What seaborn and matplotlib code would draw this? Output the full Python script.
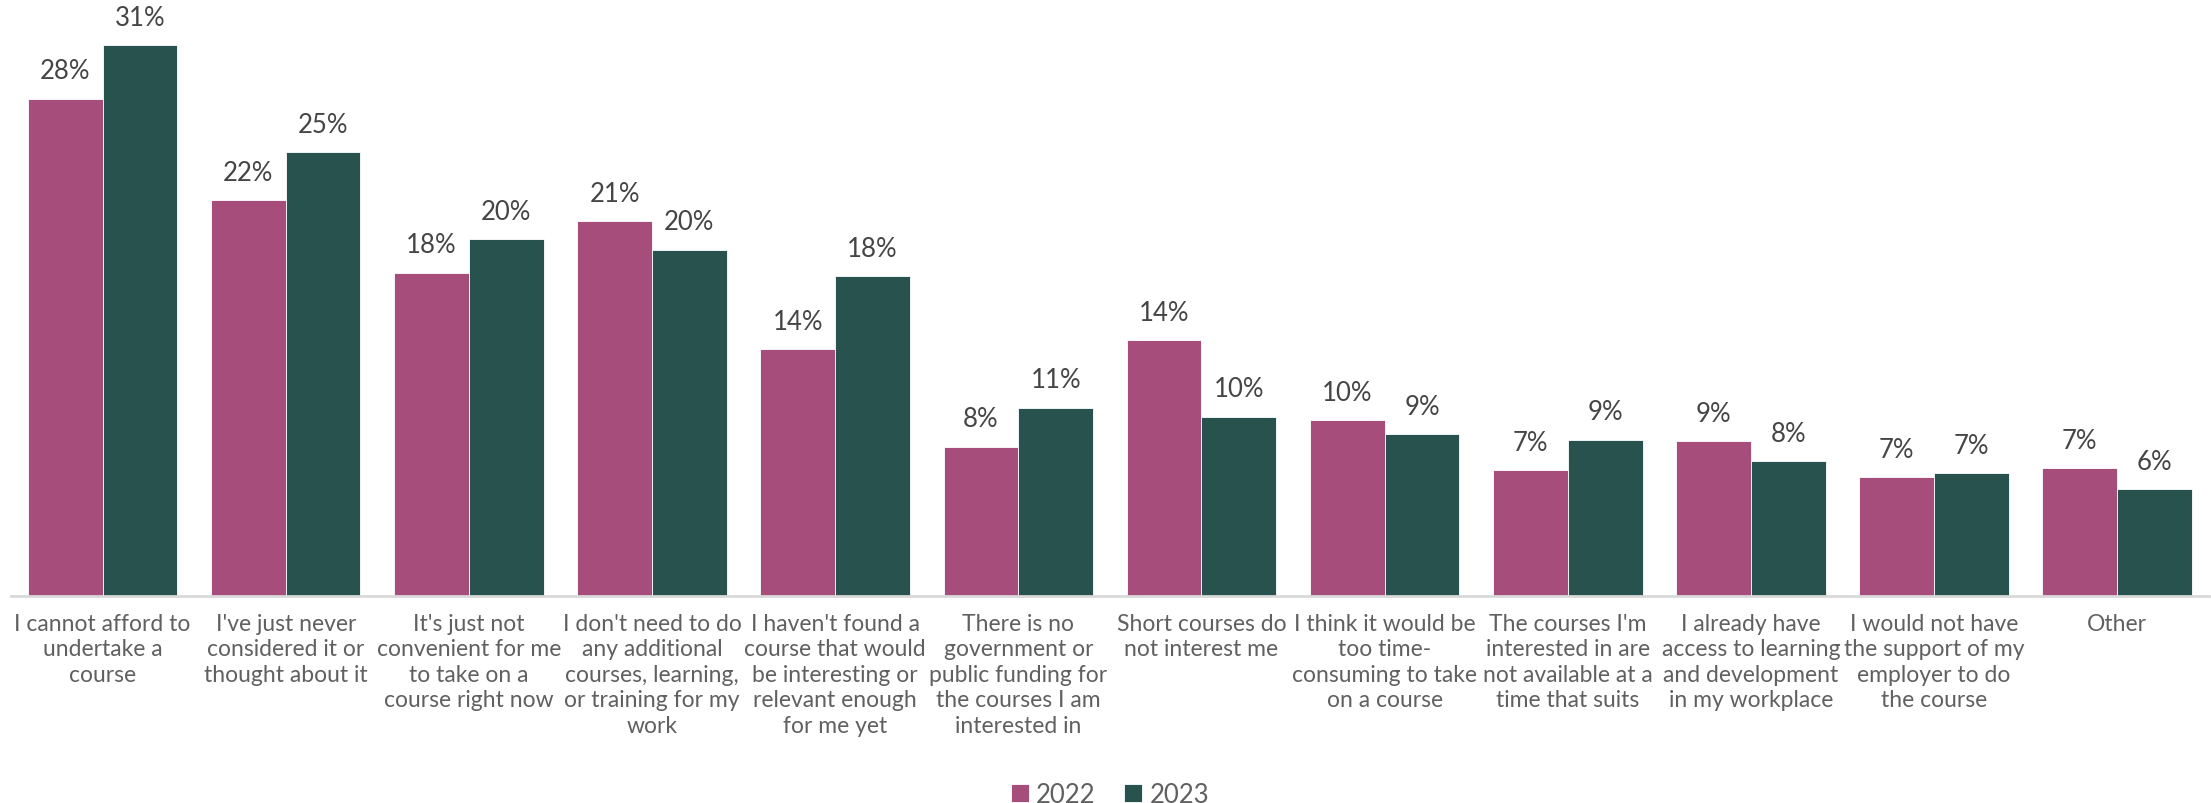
import matplotlib
matplotlib.use("Agg")
import matplotlib.pyplot as plt
import seaborn as sns
import pandas as pd

# Survey data: reasons for not taking a course (% of respondents)
categories = [
    "I cannot afford to\nundertake a\ncourse",
    "I've just never\nconsidered it or\nthought about it",
    "It's just not\nconvenient for me\nto take on a\ncourse right now",
    "I don't need to do\nany additional\ncourses, learning,\nor training for my\nwork",
    "I haven't found a\ncourse that would\nbe interesting or\nrelevant enough\nfor me yet",
    "There is no\ngovernment or\npublic funding for\nthe courses I am\ninterested in",
    "Short courses do\nnot interest me",
    "I think it would be\ntoo time-\nconsuming to take\non a course",
    "The courses I'm\ninterested in are\nnot available at a\ntime that suits",
    "I already have\naccess to learning\nand development\nin my workplace",
    "I would not have\nthe support of my\nemployer to do\nthe course",
    "Other",
]
values_2022 = [28.0, 22.3, 18.2, 21.1, 13.9, 8.4, 14.4, 9.9, 7.1, 8.7, 6.7, 7.2]
values_2023 = [31.0, 25.0, 20.1, 19.5, 18.0, 10.6, 10.1, 9.1, 8.8, 7.6, 6.9, 6.0]
years = ["2022", "2023"]
colors = {"2022": "#A64D7C", "2023": "#28524D"}

df = pd.DataFrame({
    "reason": categories * 2,
    "year": [years[0]] * len(categories) + [years[1]] * len(categories),
    "value": values_2022 + values_2023,
})

sns.set_theme(style="white")
plt.rcParams["font.family"] = ["Lato", "DejaVu Sans"]

fig = plt.figure(figsize=(22.11, 8.04), dpi=100)
ax = fig.add_axes([0.005, 0.2575, 0.994, 0.729])

sns.barplot(data=df, x="reason", y="value", hue="year", order=categories,
            hue_order=years, palette=colors, width=0.816, saturation=1,
            edgecolor="white", linewidth=0.6, ax=ax, legend=True)

ax.set_ylim(0, 33)
ax.set_xlim(-0.5, len(categories) - 0.5)
ax.set_xlabel("")
ax.set_ylabel("")
ax.set_yticks([])
for side in ["left", "right", "top"]:
    ax.spines[side].set_visible(False)
ax.spines["bottom"].set_color("#D9D9D9")
ax.spines["bottom"].set_linewidth(2)

ax.tick_params(axis="x", length=0, pad=12, labelsize=16.5, labelcolor="#606060")
for lbl in ax.get_xticklabels():
    lbl.set_linespacing(1.27)

for container in ax.containers:
    ax.bar_label(container, labels=[f"{v:.0f}%" for v in container.datavalues],
                 padding=11, fontsize=18.5, color="#454545")

handles, labels = ax.get_legend_handles_labels()
ax.legend_.remove()
fig.legend(handles, labels, loc="center", bbox_to_anchor=(0.502, 0.011), ncol=2,
           frameon=False, fontsize=18.5, handlelength=0.7, handleheight=0.7,
           handletextpad=0.3, columnspacing=1.1, labelcolor="#606060")

fig.savefig("out.png", dpi=100)
